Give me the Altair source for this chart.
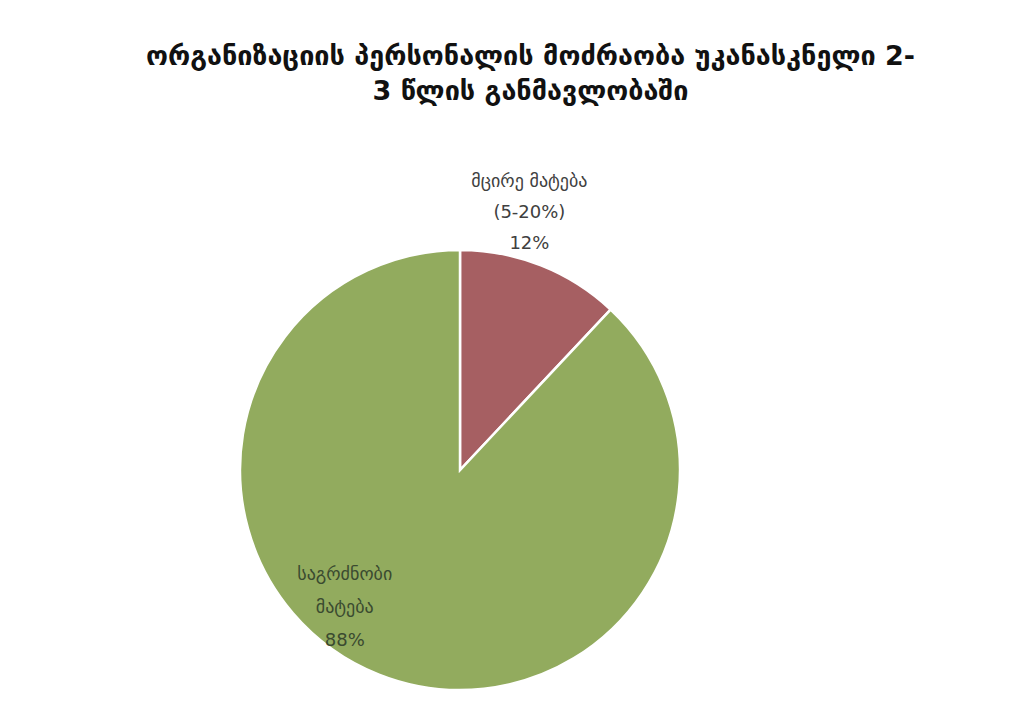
import altair as alt
import pandas as pd

categories = ["მცირე მატება (5-20%)", "საგრძნობი მატება"]
values = [12, 88]
label_lines = ["მცირე მატება\n(5-20%)\n12%", "საგრძნობი\nმატება\n88%"]
order = [0, 1]
colors = ["#A65F62", "#92AB5E"]

df = pd.DataFrame({"cat": categories, "value": values, "label": label_lines, "o": order})

FONT = "DejaVu Sans"
CX, CY, R = 452, 352, 220

base = alt.Chart(df).encode(
    theta=alt.Theta("value:Q", stack=True),
    order=alt.Order("o:Q"),
    color=alt.Color("cat:N", scale=alt.Scale(domain=categories, range=colors), legend=None),
)

pie = base.mark_arc(outerRadius=R, stroke="white", strokeWidth=2.5).encode(
    x=alt.value(CX), y=alt.value(CY)
)

lab_small = base.transform_calculate(
    t=f"datum.cat == '{categories[0]}' ? datum.label : ''"
).mark_text(
    radius=270, dx=-30, dy=-37, font=FONT, fontSize=18, lineBreak="\n",
    lineHeight=31, align="center", baseline="middle"
).encode(x=alt.value(CX), y=alt.value(CY), text="t:N", color=alt.value("#404040"))

lab_big = base.transform_calculate(
    t=f"datum.cat == '{categories[1]}' ? datum.label : ''"
).mark_text(
    radius=180, dx=-49, dy=-62, font=FONT, fontSize=18, lineBreak="\n",
    lineHeight=33, align="center", baseline="middle"
).encode(x=alt.value(CX), y=alt.value(CY), text="t:N", color=alt.value("#3A4A30"))

chart = alt.layer(pie, lab_small, lab_big).properties(
    width=1013,
    height=593,
    padding={"top": 110, "left": 0, "right": 0, "bottom": 0},
    autosize=alt.AutoSizeParams(type="none"),
    title=alt.TitleParams(
        text=["ორგანიზაციის პერსონალის მოძრაობა უკანასკნელი 2-", "3 წლის განმავლობაში"],
        font=FONT, fontSize=27, fontWeight="bold", color="#111111",
        anchor="middle", dx=16, offset=12, lineHeight=35,
    ),
).configure_view(stroke=None)

chart.save("out.html", embed_options={"renderer": "svg", "actions": False})
